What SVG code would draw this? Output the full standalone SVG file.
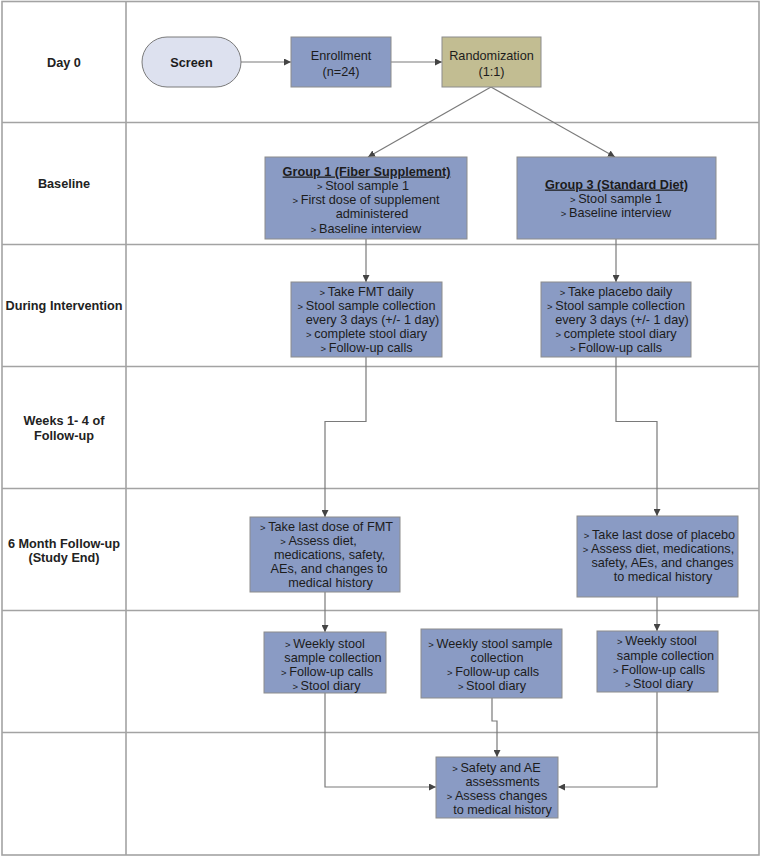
<svg xmlns="http://www.w3.org/2000/svg" width="761" height="857" viewBox="0 0 761 857">
<defs>
<marker id="ah" viewBox="0 0 10 10" refX="10" refY="5" markerWidth="7" markerHeight="7" markerUnits="userSpaceOnUse" orient="auto">
<path d="M0,0 L10,5 L0,10 z" fill="#444"/>
</marker>
<style>
.grid{fill:none;stroke:#a3a3a3;stroke-width:1.6}
.lbl{font-family:"Liberation Sans",Arial,sans-serif;font-weight:bold;font-size:12.7px;fill:#222;text-anchor:middle}
.box{fill:#8a9bc4;stroke:#8c8c8c;stroke-width:1}
.rnd{fill:#c2bd92;stroke:#8c8c8c;stroke-width:1}
.scr{fill:#dde1ef;stroke:#7a7a7a;stroke-width:1}
.t{font-family:"Liberation Sans",Arial,sans-serif;font-size:12.7px;fill:#1c1c1c;text-anchor:middle}
.b{font-weight:bold}
.u{font-weight:bold;text-decoration:underline}
.bl{font-size:9.5px}
.con{fill:none;stroke:#7a7a7a;stroke-width:1.2;marker-end:url(#ah)}
</style>
</defs>
<rect width="761" height="857" fill="#ffffff"/>
<g id="grid">
<rect class="grid" x="2" y="1.5" width="757" height="853.5"/>
<line class="grid" x1="126" y1="1.5" x2="126" y2="855"/>
<line class="grid" x1="2" y1="122.5" x2="759" y2="122.5"/>
<line class="grid" x1="2" y1="244.5" x2="759" y2="244.5"/>
<line class="grid" x1="2" y1="366.5" x2="759" y2="366.5"/>
<line class="grid" x1="2" y1="488.5" x2="759" y2="488.5"/>
<line class="grid" x1="2" y1="610.5" x2="759" y2="610.5"/>
<line class="grid" x1="2" y1="732.5" x2="759" y2="732.5"/>
</g>
<g id="row-labels">
<text class="lbl" x="64" y="66.5">Day 0</text>
<text class="lbl" x="64" y="187.5">Baseline</text>
<text class="lbl" x="64" y="309.5">During Intervention</text>
<text class="lbl" x="64" y="424.5">Weeks 1- 4 of</text>
<text class="lbl" x="64" y="439.5">Follow-up</text>
<text class="lbl" x="64" y="547.5">6 Month Follow-up</text>
<text class="lbl" x="64" y="562">(Study End)</text>
</g>
<g id="connectors">
<path class="con" d="M241,62 H291"/>
<path class="con" d="M391,62 H442"/>
<path class="con" d="M491,87 L368,157"/>
<path class="con" d="M491,87 L615,157"/>
<path class="con" d="M366,239 V282"/>
<path class="con" d="M616,239 V282"/>
<path class="con" d="M366,357 V421.5 H325 V517"/>
<path class="con" d="M616,357 V421.5 H657 V516"/>
<path class="con" d="M325,592 V632"/>
<path class="con" d="M657,597 V631"/>
<path class="con" d="M325,693 V787 H436"/>
<path class="con" d="M657,692 V787 H558"/>
<path class="con" d="M492,698 V721 H497 V757"/>
</g>
<g id="screen">
<rect class="scr" x="142" y="37" width="99" height="50" rx="25" ry="25"/>
<text class="t b" x="191.5" y="66.5">Screen</text>
</g>
<g id="enrollment">
<rect class="box" x="291" y="37" width="100" height="50"/>
<text class="t" x="341" y="59.5">Enrollment</text>
<text class="t" x="341" y="75.5">(n=24)</text>
</g>
<g id="randomization">
<rect class="rnd" x="442" y="37" width="99" height="50"/>
<text class="t" x="491.5" y="59.5">Randomization</text>
<text class="t" x="491.5" y="75.5">(1:1)</text>
</g>
<g id="group1">
<rect class="box" x="265" y="157" width="202" height="82"/>
<text class="t u" x="366.5" y="175.5">Group 1 (Fiber Supplement)</text>
<text class="t" x="363" y="189.8"><tspan class="bl">&gt; </tspan>Stool sample 1</text>
<text class="t" x="366" y="204"><tspan class="bl">&gt; </tspan>First dose of supplement</text>
<text class="t" x="372" y="218.3">administered</text>
<text class="t" x="366" y="232.6"><tspan class="bl">&gt; </tspan>Baseline interview</text>
</g>
<g id="group3">
<rect class="box" x="517" y="157" width="199" height="82"/>
<text class="t u" x="616.5" y="188.5">Group 3 (Standard Diet)</text>
<text class="t" x="616" y="203"><tspan class="bl">&gt; </tspan>Stool sample 1</text>
<text class="t" x="616" y="217.3"><tspan class="bl">&gt; </tspan>Baseline interview</text>
</g>
<g id="fmt-daily">
<rect class="box" x="291" y="282" width="151" height="75"/>
<text class="t" x="366.5" y="295.5"><tspan class="bl">&gt; </tspan>Take FMT daily</text>
<text class="t" x="366.5" y="309.7"><tspan class="bl">&gt; </tspan>Stool sample collection</text>
<text class="t" x="372.5" y="323.9">every 3 days (+/- 1 day)</text>
<text class="t" x="366.5" y="338.1"><tspan class="bl">&gt; </tspan>complete stool diary</text>
<text class="t" x="366.5" y="352.3"><tspan class="bl">&gt; </tspan>Follow-up calls</text>
</g>
<g id="placebo-daily">
<rect class="box" x="541" y="282" width="150" height="75"/>
<text class="t" x="616" y="295.5"><tspan class="bl">&gt; </tspan>Take placebo daily</text>
<text class="t" x="616" y="309.7"><tspan class="bl">&gt; </tspan>Stool sample collection</text>
<text class="t" x="622" y="323.9">every 3 days (+/- 1 day)</text>
<text class="t" x="616" y="338.1"><tspan class="bl">&gt; </tspan>complete stool diary</text>
<text class="t" x="616" y="352.3"><tspan class="bl">&gt; </tspan>Follow-up calls</text>
</g>
<g id="fmt-last">
<rect class="box" x="250" y="517" width="150" height="75"/>
<text class="t" x="326.5" y="530.5"><tspan class="bl">&gt; </tspan>Take last dose of FMT</text>
<text class="t" x="318.5" y="544.7"><tspan class="bl">&gt; </tspan>Assess diet,</text>
<text class="t" x="329.5" y="558.9">medications, safety,</text>
<text class="t" x="329" y="573.1">AEs, and changes to</text>
<text class="t" x="330.5" y="587.3">medical history</text>
</g>
<g id="placebo-last">
<rect class="box" x="577" y="516" width="161" height="81"/>
<text class="t" x="659.5" y="538.5"><tspan class="bl">&gt; </tspan>Take last dose of placebo</text>
<text class="t" x="658.5" y="552.8"><tspan class="bl">&gt; </tspan>Assess diet, medications,</text>
<text class="t" x="662.5" y="567.1">safety, AEs, and changes</text>
<text class="t" x="663" y="581.4">to medical history</text>
</g>
<g id="weekly-left">
<rect class="box" x="264" y="632" width="122" height="61"/>
<text class="t" x="325" y="647.5"><tspan class="bl">&gt; </tspan>Weekly stool</text>
<text class="t" x="333" y="661.7">sample collection</text>
<text class="t" x="327" y="675.9"><tspan class="bl">&gt; </tspan>Follow-up calls</text>
<text class="t" x="326.5" y="690.1"><tspan class="bl">&gt; </tspan>Stool diary</text>
</g>
<g id="weekly-middle">
<rect class="box" x="421" y="629" width="141" height="69"/>
<text class="t" x="490.5" y="647.5"><tspan class="bl">&gt; </tspan>Weekly stool sample</text>
<text class="t" x="497" y="661.7">collection</text>
<text class="t" x="493" y="676"><tspan class="bl">&gt; </tspan>Follow-up calls</text>
<text class="t" x="492" y="690.2"><tspan class="bl">&gt; </tspan>Stool diary</text>
</g>
<g id="weekly-right">
<rect class="box" x="597" y="631" width="121" height="61"/>
<text class="t" x="657" y="645.3"><tspan class="bl">&gt; </tspan>Weekly stool</text>
<text class="t" x="665.5" y="659.5">sample collection</text>
<text class="t" x="659" y="673.8"><tspan class="bl">&gt; </tspan>Follow-up calls</text>
<text class="t" x="659" y="688"><tspan class="bl">&gt; </tspan>Stool diary</text>
</g>
<g id="safety">
<rect class="box" x="436" y="757" width="122" height="61"/>
<text class="t" x="496.5" y="771.5"><tspan class="bl">&gt; </tspan>Safety and AE</text>
<text class="t" x="502.5" y="785.7">assessments</text>
<text class="t" x="497" y="799.9"><tspan class="bl">&gt; </tspan>Assess changes</text>
<text class="t" x="502.5" y="814.1">to medical history</text>
</g>
</svg>
